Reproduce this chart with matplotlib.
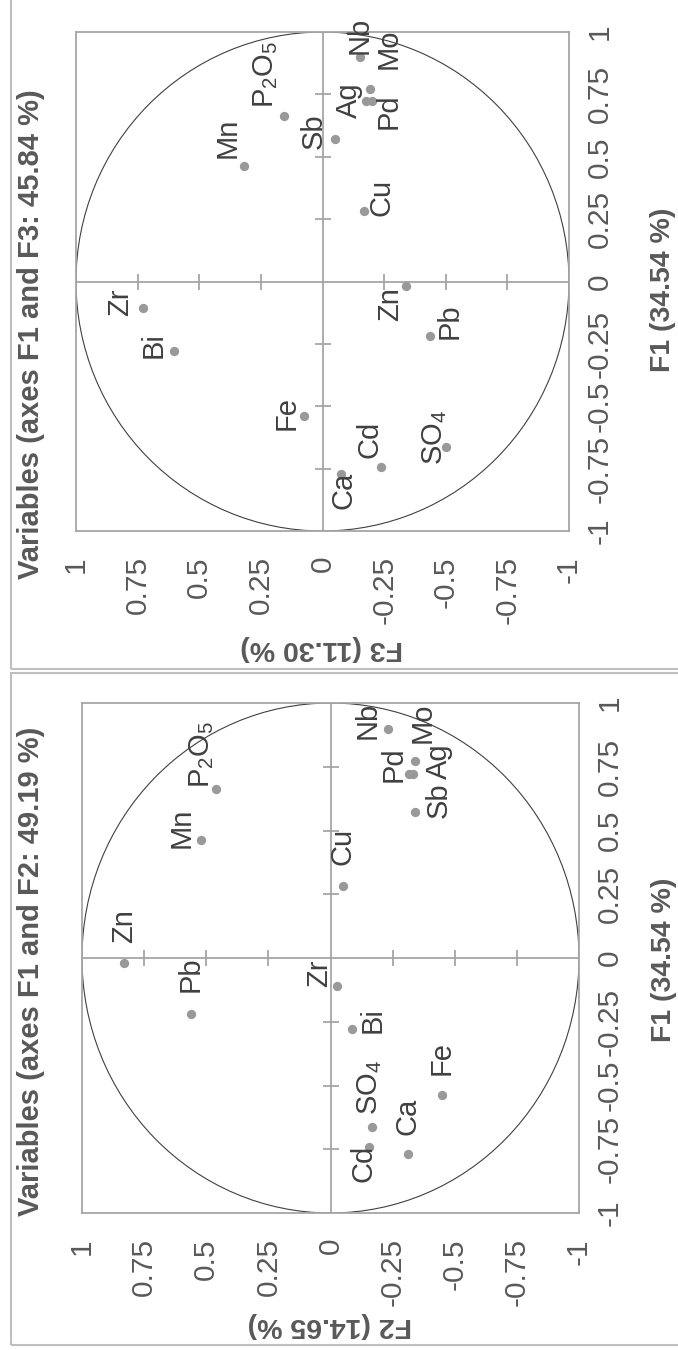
import numpy as np
import matplotlib
matplotlib.use("Agg")
from matplotlib import pyplot as plt
from matplotlib.patches import Circle, Rectangle

plt.rcParams['font.family'] = ['Liberation Sans', 'DejaVu Sans']
plt.rcParams['mathtext.fontset'] = 'custom'
plt.rcParams['mathtext.rm'] = 'Liberation Sans'
plt.rcParams['mathtext.it'] = 'Liberation Sans:italic'
plt.rcParams['mathtext.bf'] = 'Liberation Sans:bold'

# correlations of the variables with the factors
variables = ['Zn', 'P2O5', 'Mn', 'Zr', 'Pb', 'Nb', 'Mo', 'Pd', 'Ag', 'Sb',
             'Cu', 'Bi', 'SO4', 'Cd', 'Ca', 'Fe']
f1 = [-0.020, 0.662, 0.461, -0.108, -0.218, 0.898, 0.723, 0.723, 0.771, 0.573,
      0.282, -0.280, -0.663, -0.743, -0.770, -0.538]
f2 = [0.831, 0.461, 0.521, -0.025, 0.563, -0.231, -0.332, -0.316, -0.340, -0.340,
      -0.050, -0.088, -0.168, -0.155, -0.311, -0.447]
f3 = [-0.337, 0.156, 0.318, 0.729, -0.435, -0.151, -0.199, -0.175, -0.191, -0.051,
      -0.168, 0.602, -0.502, -0.237, -0.077, 0.075]

ticks = [-1, -0.75, -0.5, -0.25, 0, 0.25, 0.5, 0.75, 1]
tick_labels = ['-1', '-0.75', '-0.5', '-0.25', '0', '0.25', '0.5', '0.75', '1']

display = {'P2O5': r'P$_\mathregular{2}$O$_\mathregular{5}$',
           'SO4': r'SO$_\mathregular{4}$'}

# label offsets in pixels (right, down) on the page
off_top = {'Zn': (-15, 18), 'P2O5': (-18, -42), 'Mn': (-16, -29), 'Zr': (-23, -6),
           'Pb': (20, -15), 'Nb': (0, -22), 'Mo': (17, -52), 'Pd': (23, 10),
           'Ag': (-21, 11), 'Sb': (-21, -7), 'Cu': (18, -14), 'Bi': (-20, -6),
           'SO4': (-12, -9), 'Cd': (-11, -28), 'Ca': (2, 17), 'Fe': (-17, -3)}
off_bot = {'Zn': (0, -37), 'P2O5': (-14, -35), 'Mn': (-19, -13), 'Zr': (-18, -12),
           'Pb': (0, -39), 'Nb': (-20, -9), 'Mo': (10, -51), 'Pd': (-15, -9),
           'Ag': (24, 0), 'Sb': (24, -12), 'Cu': (0, -40), 'Bi': (20, -9),
           'SO4': (-3, -40), 'Cd': (-6, 16), 'Ca': (0, -38), 'Fe': (0, -37)}

W, H = 678, 1350
fig = plt.figure(figsize=(W / 100, H / 100), dpi=100)

GRID = '#A6A6A6'
TXT = '#595959'


def px(x, y):
    return x / W, 1 - y / H


def panel(box, fvert, offsets, title, title_xy, xlab, xlab_xy, ylab, ylab_xy):
    l, t, r, b = box
    ax = fig.add_axes([l / W, 1 - b / H, (r - l) / W, (b - t) / H])
    ax.set_xlim(1, -1)
    ax.set_ylim(-1, 1)
    ax.add_patch(Circle((0, 0), 1, fill=False, ec='#404040', lw=0.8, zorder=2))
    ax.axhline(0, color=GRID, lw=1.3, zorder=1)
    ax.axvline(0, color=GRID, lw=1.3, zorder=1)
    inner = [v for v in ticks if v not in (-1, 0, 1)]
    ax.plot(inner, np.zeros(len(inner)), ls='none', marker='|', ms=12,
            mew=1.3, color=GRID, zorder=1)
    ax.plot(np.zeros(len(inner)), inner, ls='none', marker='_', ms=12,
            mew=1.3, color=GRID, zorder=1)
    ax.scatter(fvert, f1, s=45, color='#999999', zorder=3, lw=0)
    for name, xv, yv in zip(variables, fvert, f1):
        dx, dy = offsets[name]
        ax.annotate(display.get(name, name), (xv, yv), xytext=(dx, -dy),
                    textcoords='offset pixels', rotation=90, ha='center',
                    va='center', fontsize=21, color='#404040', zorder=4)
    ax.set_xticks(ticks)
    ax.set_xticklabels(tick_labels)
    ax.set_yticks(ticks)
    ax.set_yticklabels(tick_labels)
    ax.yaxis.tick_right()
    ax.tick_params(axis='x', length=0, pad=18, labelrotation=90,
                   labelsize=21.5, labelcolor=TXT)
    ax.tick_params(axis='y', length=0, pad=12, labelrotation=90,
                   labelsize=21.5, labelcolor=TXT)
    for lab in ax.get_yticklabels():
        lab.set_va('center')
    for s in ax.spines.values():
        s.set_color(GRID)
        s.set_linewidth(1.3)
    fig.text(*px(*title_xy), title, rotation=90, ha='center', va='center',
             fontsize=21, fontweight='bold', color=TXT)
    fig.text(*px(*xlab_xy), xlab, rotation=180, ha='center', va='center',
             fontsize=20.5, fontweight='bold', color=TXT)
    fig.text(*px(*ylab_xy), ylab, rotation=90, ha='center', va='center',
             fontsize=20.5, fontweight='bold', color=TXT)
    return ax


panel((76, 32, 569, 531), f3, off_top, 'Variables (axes F1 and F3: 45.84 %)',
      (31, 334), 'F3 (11.30 %)', (322, 648), 'F1 (34.54 %)', (663, 290))
panel((82, 703, 579, 1213), f2, off_bot, 'Variables (axes F1 and F2: 49.19 %)',
      (31, 971), 'F2 (14.65 %)', (330, 1325), 'F1 (34.54 %)', (664, 960))

# outer frames of the two panels (their other edges lie outside the page)
fig.patches.append(Rectangle(px(11, 669), 1.2, 0.6, fill=False,
                             ec='#BFBFBF', lw=1.5, transform=fig.transFigure))
fig.patches.append(Rectangle(px(11, 1345), 1.2, (1345 - 673) / H, fill=False,
                             ec='#BFBFBF', lw=1.5, transform=fig.transFigure))

fig.savefig('out.png', dpi=100, facecolor='white')
